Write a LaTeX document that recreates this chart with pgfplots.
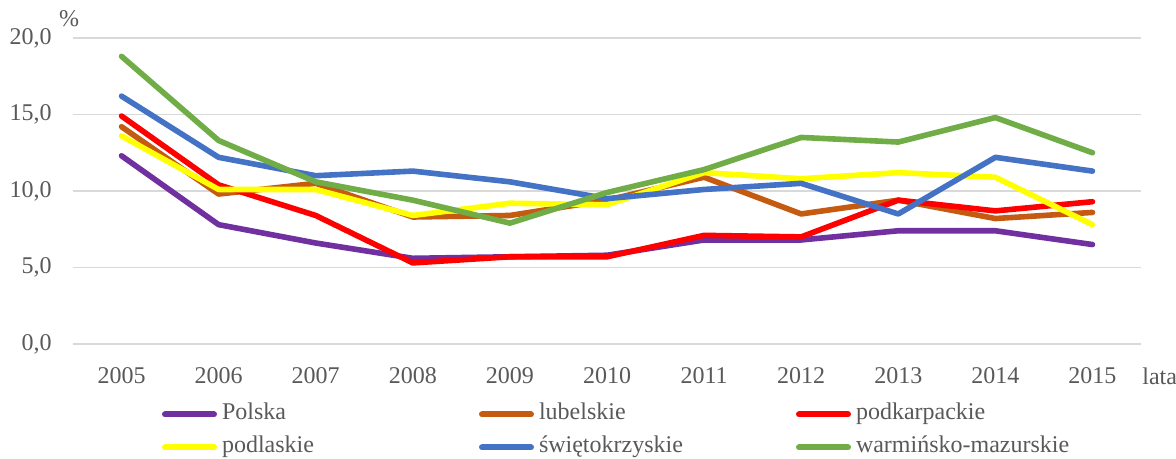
\documentclass[border=0pt]{standalone}
\usepackage{fontspec}
\setmainfont{Liberation Serif}
\usepackage{pgfplots}
\pgfplotsset{compat=1.18}
\definecolor{cPol}{HTML}{7030A0}
\definecolor{cLub}{HTML}{C55A11}
\definecolor{cPdk}{HTML}{FF0000}
\definecolor{cPdl}{HTML}{FFFF00}
\definecolor{cSwi}{HTML}{4472C4}
\definecolor{cWar}{HTML}{70AD47}
\definecolor{txt}{HTML}{595959}
\definecolor{grd}{HTML}{D9D9D9}
\begin{document}
\fontsize{12}{14}\selectfont
\begin{tikzpicture}
\useasboundingbox (0,0) rectangle (588pt,229.5pt);
\begin{axis}[
  at={(36.5pt,57.5pt)}, anchor=south west,
  scale only axis, width=534pt, height=153pt,
  xmin=-0.5, xmax=10.5, ymin=0, ymax=20,
  ytick={0,5,10,15,20},
  xtick={0,...,10},
  xticklabels={2005,2006,2007,2008,2009,2010,2011,2012,2013,2014,2015},
  axis line style={draw=none},
  major tick style={draw=none},
  ymajorgrids, grid style={color=grd, line width=0.75pt},
  font=\fontsize{12}{14}\selectfont,
  /pgf/number format/assume math mode=true,
  yticklabel style={/pgf/number format/.cd, fixed, fixed zerofill, precision=1, use comma, /tikz/.cd, anchor=east, inner sep=0pt, xshift=-10.5pt, text=txt},
  xticklabel style={anchor=center, inner sep=0pt, yshift=-16pt, text=txt},
  ylabel={\%}, ylabel style={rotate=-90, at={(axis description cs:0,1)}, anchor=center, xshift=-2pt, yshift=9.5pt, text=txt, inner sep=0pt},
  xlabel={lata}, xlabel style={at={(axis description cs:1,0)}, anchor=west, xshift=0.5pt, yshift=-16pt, text=txt, inner sep=0pt},
  legend columns=3,
  legend cell align=left,
  legend image code/.code={\draw[#1, line width=3pt, line cap=round] (1.5pt,0pt) -- (26pt,0pt);},
  legend style={at={(axis description cs:0,0)}, anchor=north west, xshift=44.5pt, yshift=-30pt,
    draw=none, fill=none, inner sep=0pt, outer sep=0pt, column sep=2.5pt, row sep=6pt,
    text=txt, font=\fontsize{12}{14}\selectfont,
    nodes={inner sep=0pt, text height=8pt, text depth=2.5pt}},
  every axis plot/.append style={line width=2.8pt, line cap=round, line join=round},
]
\addplot[color=cPol] coordinates {(0,12.3) (1,7.8) (2,6.6) (3,5.6) (4,5.7) (5,5.8) (6,6.8) (7,6.8) (8,7.4) (9,7.4) (10,6.5)};
\addlegendentry{\makebox[126pt][l]{Polska}}
\addplot[color=cLub] coordinates {(0,14.2) (1,9.8) (2,10.5) (3,8.3) (4,8.4) (5,9.4) (6,10.9) (7,8.5) (8,9.4) (9,8.2) (10,8.6)};
\addlegendentry{\makebox[126pt][l]{lubelskie}}
\addplot[color=cPdk] coordinates {(0,14.9) (1,10.4) (2,8.4) (3,5.3) (4,5.7) (5,5.7) (6,7.1) (7,7.0) (8,9.4) (9,8.7) (10,9.3)};
\addlegendentry{\makebox[126pt][l]{podkarpackie}}
\addplot[color=cPdl] coordinates {(0,13.6) (1,10.1) (2,10.1) (3,8.4) (4,9.2) (5,9.1) (6,11.2) (7,10.8) (8,11.2) (9,10.9) (10,7.8)};
\addlegendentry{\makebox[126pt][l]{podlaskie}}
\addplot[color=cSwi] coordinates {(0,16.2) (1,12.2) (2,11.0) (3,11.3) (4,10.6) (5,9.5) (6,10.1) (7,10.5) (8,8.5) (9,12.2) (10,11.3)};
\addlegendentry{\makebox[126pt][l]{świętokrzyskie}}
\addplot[color=cWar] coordinates {(0,18.8) (1,13.3) (2,10.6) (3,9.4) (4,7.9) (5,9.9) (6,11.4) (7,13.5) (8,13.2) (9,14.8) (10,12.5)};
\addlegendentry{\makebox[126pt][l]{warmińsko-mazurskie}}
\end{axis}
\end{tikzpicture}
\end{document}
